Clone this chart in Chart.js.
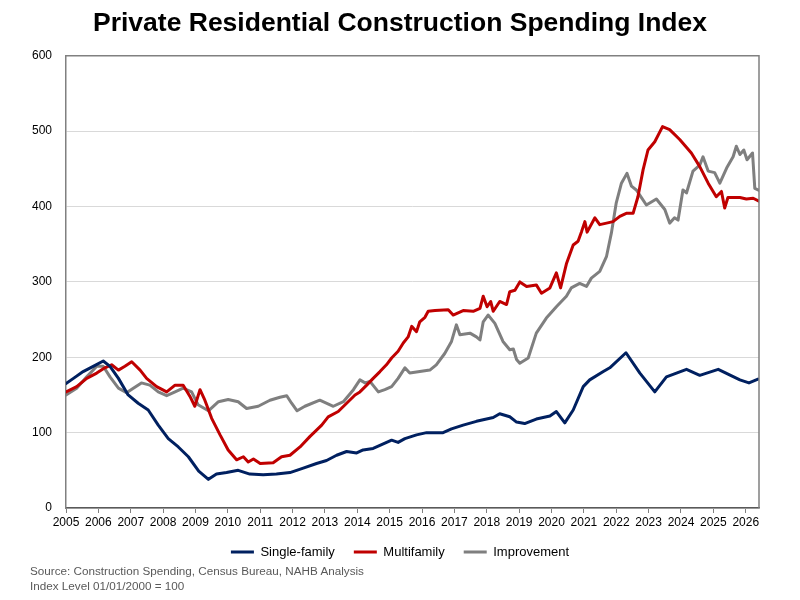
<!DOCTYPE html>
<html>
<head>
<meta charset="utf-8">
<title>Private Residential Construction Spending Index</title>
<script src="https://cdn.jsdelivr.net/npm/chart.js@4.4.1/dist/chart.umd.min.js"></script>
<style>
  html, body { margin: 0; padding: 0; background: #fff; }
  #wrap { position: relative; width: 800px; height: 600px; }
  #note {
    position: absolute; left: 30px; top: 563px;
    font: 11.7px "Liberation Sans", Arial, sans-serif; color: #595959; line-height: 15px;
  }
</style>
</head>
<body>
<div id="wrap">
  <canvas id="myChart" width="800" height="600"></canvas>
  <div id="note">Source: Construction Spending, Census Bureau, NAHB Analysis<br>Index Level 01/01/2000 = 100</div>
</div>
<script>
// Data (decimal year, index value)
const yearTicks = [2005, 2006, 2007, 2008, 2009, 2010, 2011, 2012, 2013, 2014, 2015,
    2016, 2017, 2018, 2019, 2020, 2021, 2022, 2023, 2024, 2025, 2026];

const sfYears = [2005.00, 2005.23, 2005.53, 2005.84, 2006.15, 2006.36, 2006.62, 2006.92, 2007.23, 2007.54,
    2007.85, 2008.16, 2008.47, 2008.78, 2009.10, 2009.40, 2009.65, 2009.96, 2010.32, 2010.68,
    2011.09, 2011.50, 2011.92, 2012.33, 2012.74, 2013.05, 2013.36, 2013.67, 2013.98, 2014.18,
    2014.49, 2014.75, 2015.06, 2015.26, 2015.47, 2015.83, 2016.14, 2016.65, 2016.91, 2017.27,
    2017.68, 2018.20, 2018.40, 2018.71, 2018.92, 2019.17, 2019.53, 2019.95, 2020.15, 2020.41,
    2020.67, 2020.98, 2021.18, 2021.60, 2021.80, 2022.30, 2022.73, 2023.19, 2023.55, 2024.17,
    2024.58, 2025.15, 2025.82, 2026.10, 2026.38];
const sfValues = [165, 172, 181, 188, 195, 188, 172, 150, 139, 130,
    110, 92, 81, 68, 49, 38, 45, 47, 50, 45,
    44, 45, 47, 53, 59, 63, 70, 75, 73, 77,
    79, 84, 90, 87, 92, 97, 100, 100, 105, 110,
    115, 120, 125, 121, 114, 112, 118, 122, 128, 113,
    130, 161, 170, 181, 186, 206, 179, 154, 174, 184,
    176, 184, 170, 166, 171];

const mfYears = [2005.00, 2005.33, 2005.64, 2005.95, 2006.20, 2006.41, 2006.62, 2006.82, 2007.03, 2007.29,
    2007.49, 2007.80, 2008.11, 2008.37, 2008.62, 2008.83, 2008.98, 2009.14, 2009.29, 2009.50,
    2009.76, 2010.01, 2010.27, 2010.48, 2010.63, 2010.79, 2011.00, 2011.40, 2011.66, 2011.92,
    2012.23, 2012.54, 2012.90, 2013.10, 2013.41, 2013.67, 2013.93, 2014.08, 2014.29, 2014.49,
    2014.70, 2014.90, 2015.06, 2015.26, 2015.42, 2015.57, 2015.68, 2015.83, 2015.93, 2016.09,
    2016.19, 2016.40, 2016.81, 2016.96, 2017.27, 2017.58, 2017.79, 2017.89, 2018.01, 2018.12,
    2018.20, 2018.40, 2018.61, 2018.71, 2018.87, 2019.02, 2019.23, 2019.53, 2019.69, 2019.95,
    2020.15, 2020.28, 2020.46, 2020.67, 2020.82, 2020.93, 2021.03, 2021.10, 2021.34, 2021.49,
    2021.70, 2021.90, 2022.11, 2022.31, 2022.52, 2022.67, 2022.83, 2022.98, 2023.19, 2023.43,
    2023.65, 2023.96, 2024.32, 2024.58, 2024.84, 2025.09, 2025.25, 2025.35, 2025.45, 2025.82,
    2026.02, 2026.23, 2026.41];
const mfValues = [154, 161, 172, 179, 186, 190, 183, 188, 194, 183,
    172, 161, 154, 163, 163, 148, 135, 157, 143, 119,
    97, 77, 64, 68, 61, 65, 59, 60, 68, 70,
    81, 95, 110, 121, 128, 139, 150, 154, 163, 172,
    181, 190, 199, 208, 219, 227, 241, 234, 247, 253,
    261, 262, 263, 256, 262, 261, 265, 281, 267, 274,
    261, 274, 270, 287, 289, 300, 294, 296, 285, 292,
    312, 292, 324, 349, 354, 367, 380, 366, 385, 376,
    378, 380, 387, 391, 391, 413, 449, 475, 486, 506,
    502, 489, 471, 453, 431, 413, 420, 398, 412, 412,
    410, 411, 407];

const impYears = [2005.00, 2005.33, 2005.64, 2005.95, 2006.15, 2006.36, 2006.62, 2006.87, 2007.08, 2007.33,
    2007.59, 2007.85, 2008.11, 2008.37, 2008.62, 2008.88, 2009.08, 2009.40, 2009.71, 2010.01,
    2010.32, 2010.58, 2010.94, 2011.30, 2011.61, 2011.82, 2011.97, 2012.14, 2012.38, 2012.84,
    2013.26, 2013.57, 2013.88, 2014.08, 2014.24, 2014.39, 2014.65, 2014.85, 2015.06, 2015.26,
    2015.47, 2015.62, 2015.93, 2016.24, 2016.44, 2016.70, 2016.91, 2017.06, 2017.17, 2017.48,
    2017.68, 2017.79, 2017.89, 2018.04, 2018.25, 2018.50, 2018.71, 2018.82, 2018.92, 2019.02,
    2019.28, 2019.53, 2019.84, 2020.15, 2020.46, 2020.61, 2020.87, 2021.08, 2021.23, 2021.49,
    2021.70, 2021.85, 2022.00, 2022.16, 2022.33, 2022.47, 2022.62, 2022.93, 2023.24, 2023.50,
    2023.65, 2023.80, 2023.91, 2024.06, 2024.17, 2024.37, 2024.58, 2024.68, 2024.84, 2025.04,
    2025.20, 2025.41, 2025.61, 2025.71, 2025.82, 2025.94, 2026.04, 2026.21, 2026.28, 2026.43];
const impValues = [150, 159, 174, 188, 188, 174, 159, 153, 159, 166,
    163, 154, 149, 154, 159, 154, 137, 129, 141, 144,
    141, 132, 135, 143, 147, 149, 139, 129, 135, 143,
    135, 141, 157, 170, 166, 168, 154, 157, 161, 172,
    186, 179, 181, 183, 190, 205, 221, 243, 230, 232,
    227, 223, 247, 256, 245, 221, 210, 211, 197, 192,
    199, 232, 252, 267, 281, 292, 298, 294, 305, 314,
    334, 365, 405, 431, 444, 427, 422, 402, 410, 396,
    378, 385, 382, 422, 418, 447, 455, 466, 447, 445,
    431, 451, 466, 480, 469, 475, 462, 471, 424, 421];

const FONT = '"Liberation Sans", Arial, sans-serif';

function toPoints(xs, ys) {
    return xs.map((x, i) => ({ x: x, y: ys[i] }));
}

// Gray box around the plot area (top and right sides)
const plotFrame = {
    id: 'plotFrame',
    afterDatasetsDraw(chart) {
        const { ctx, chartArea: a } = chart;
        ctx.save();
        ctx.strokeStyle = '#808080';
        ctx.lineWidth = 1.5;
        ctx.beginPath();
        ctx.moveTo(a.left, a.top);
        ctx.lineTo(a.right, a.top);
        ctx.lineTo(a.right, a.bottom);
        ctx.stroke();
        ctx.restore();
    }
};

const ctx = document.getElementById('myChart').getContext('2d');
const myChart = new Chart(ctx, {
    type: 'line',
    data: {
        datasets: [
            { label: 'Single-family', data: toPoints(sfYears, sfValues), borderColor: '#002060', backgroundColor: '#002060' },
            { label: 'Multifamily', data: toPoints(mfYears, mfValues), borderColor: '#C00000', backgroundColor: '#C00000' },
            { label: 'Improvement', data: toPoints(impYears, impValues), borderColor: '#7F7F7F', backgroundColor: '#7F7F7F' }
        ]
    },
    options: {
        responsive: false,
        animation: false,
        layout: { padding: { left: 0, right: 0, top: 0, bottom: 31.5 } },
        elements: {
            line: { borderWidth: 3, tension: 0, borderJoinStyle: 'round', borderCapStyle: 'round' },
            point: { radius: 0 }
        },
        plugins: {
            title: {
                display: true,
                text: 'Private Residential Construction Spending Index',
                color: '#000',
                font: { family: FONT, size: 26.5, weight: 'bold' },
                padding: { top: 8, bottom: 16 }
            },
            legend: {
                position: 'bottom',
                labels: {
                    color: '#000',
                    font: { family: FONT, size: 13 },
                    boxWidth: 23,
                    boxHeight: 3,
                    padding: 19,
                    generateLabels: (chart) => Chart.defaults.plugins.legend.labels.generateLabels(chart)
                        .map(item => Object.assign(item, { lineWidth: 0 }))
                }
            },
            tooltip: { enabled: false }
        },
        scales: {
            x: {
                type: 'linear',
                min: 2005,
                max: 2026.41,
                afterBuildTicks: (scale) => { scale.ticks = yearTicks.map(v => ({ value: v })); },
                afterFit: (scale) => { scale.height = 18.5; },
                grid: { drawOnChartArea: false, drawTicks: true, tickLength: 5, color: '#808080' },
                border: { color: '#595959', width: 1.5 },
                ticks: {
                    color: '#000',
                    font: { family: FONT, size: 12 },
                    padding: 2,
                    maxRotation: 0,
                    autoSkip: false,
                    callback: (v) => String(v)
                }
            },
            y: {
                min: 0,
                max: 600,
                afterFit: (scale) => { scale.width = 66; },
                grid: { color: '#D9D9D9', drawTicks: false },
                border: { color: '#808080', width: 1.5 },
                ticks: {
                    stepSize: 100,
                    color: '#000',
                    font: { family: FONT, size: 12 },
                    padding: 14
                }
            },
            // empty right-hand axis that only reserves the margin right of the plot
            yRight: {
                position: 'right',
                afterFit: (scale) => { scale.width = 41; },
                grid: { display: false },
                border: { display: false },
                ticks: { display: false }
            }
        }
    },
    plugins: [plotFrame]
});
</script>
</body>
</html>
